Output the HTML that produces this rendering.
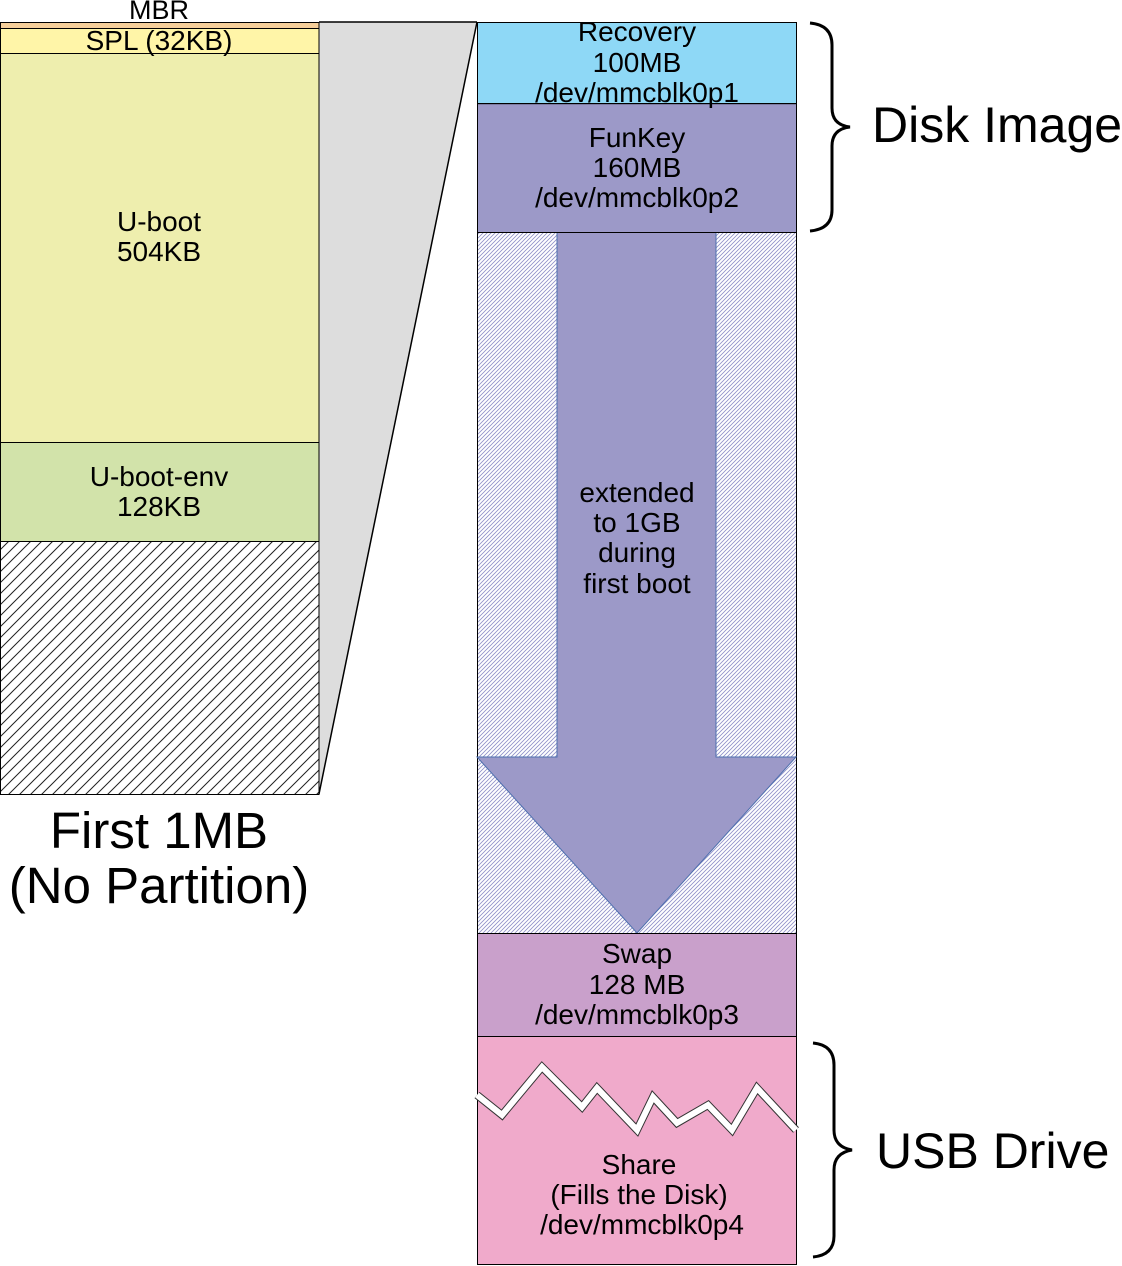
<!DOCTYPE html>
<html><head><meta charset="utf-8"><style>
html,body{margin:0;padding:0;background:#fff;}
svg{display:block;}
text{font-family:"Liberation Sans",sans-serif;fill:#000;}
</style></head><body>
<svg width="1122" height="1266" viewBox="0 0 1122 1266" xmlns="http://www.w3.org/2000/svg">
<defs>
<pattern id="hb" patternUnits="userSpaceOnUse" width="11" height="11">
<path d="M-1,12 L12,-1 M-12,12 L1,-1 M10,12 L23,-1" stroke="#222" stroke-width="1"/>
</pattern>
<pattern id="hu" patternUnits="userSpaceOnUse" width="4" height="4">
<path d="M-1,5 L5,-1 M-5,5 L1,-1 M3,5 L9,-1" stroke="#8f8fc8" stroke-width="0.8"/>
</pattern>
</defs>
<polygon points="319,22 477,22 319,794" fill="#dddddd" stroke="none"/>
<line x1="319" y1="22" x2="477" y2="22" stroke="#000" stroke-width="1.5"/>
<line x1="477" y1="22" x2="319" y2="794" stroke="#000" stroke-width="1.5"/>
<rect x="0.5" y="22.5" width="318.5" height="6" fill="#f6cf9a" stroke="#000"/>
<rect x="0.5" y="28.5" width="318.5" height="25" fill="#fff5a8" stroke="#000"/>
<rect x="0.5" y="53.5" width="318.5" height="389" fill="#eeeeae" stroke="#000"/>
<rect x="0.5" y="442.5" width="318.5" height="99" fill="#d2e3aa" stroke="#000"/>
<rect x="0.5" y="541.5" width="318.5" height="253" fill="url(#hb)" stroke="#000"/>
<text x="159" y="19" font-size="27" text-anchor="middle">MBR</text>
<text x="159" y="50" font-size="28" text-anchor="middle">SPL (32KB)</text>
<text x="159" y="231" font-size="28" text-anchor="middle">U-boot</text>
<text x="159" y="261" font-size="28" text-anchor="middle">504KB</text>
<text x="159" y="486" font-size="28" text-anchor="middle">U-boot-env</text>
<text x="159" y="516" font-size="28" text-anchor="middle">128KB</text>
<text x="159" y="848" font-size="51" text-anchor="middle">First 1MB</text>
<text x="159" y="903" font-size="51" text-anchor="middle">(No Partition)</text>
<rect x="477.5" y="232.5" width="319" height="701" fill="url(#hu)" stroke="#000"/>
<polygon points="557,232 716,232 716,757 796,757 637,933 477,757 557,757" fill="#9c99c8" stroke="#4e6fae" stroke-width="1"/>
<rect x="477.5" y="22.5" width="319" height="81" fill="#8ed8f6" stroke="#000"/>
<rect x="477.5" y="103.5" width="319" height="129" fill="#9c99c8" stroke="#000"/>
<rect x="477.5" y="933.5" width="319" height="103" fill="#c9a0cb" stroke="#000"/>
<rect x="477.5" y="1036.5" width="319" height="228" fill="#f0aacb" stroke="#000"/>
<polyline points="477,1095 502,1115 542,1067 582,1107 597,1088 637,1130 653,1097 677,1123 708,1105 732,1130 757,1088 796,1130" fill="none" stroke="#333" stroke-width="8"/>
<polyline points="477,1095 502,1115 542,1067 582,1107 597,1088 637,1130 653,1097 677,1123 708,1105 732,1130 757,1088 796,1130" fill="none" stroke="#fff" stroke-width="6"/>
<text x="637" y="41" font-size="28" text-anchor="middle">Recovery</text>
<text x="637" y="72" font-size="28" text-anchor="middle">100MB</text>
<text x="637" y="102" font-size="28" text-anchor="middle">/dev/mmcblk0p1</text>
<rect x="477" y="103" width="320" height="1.2" fill="#000"/>
<text x="637" y="147" font-size="28" text-anchor="middle">FunKey</text>
<text x="637" y="177" font-size="28" text-anchor="middle">160MB</text>
<text x="637" y="207" font-size="28" text-anchor="middle">/dev/mmcblk0p2</text>
<text x="637" y="502" font-size="28" text-anchor="middle">extended</text>
<text x="637" y="532" font-size="28" text-anchor="middle">to 1GB</text>
<text x="637" y="562" font-size="28" text-anchor="middle">during</text>
<text x="637" y="593" font-size="28" text-anchor="middle">first boot</text>
<text x="637" y="963" font-size="28" text-anchor="middle">Swap</text>
<text x="637" y="994" font-size="28" text-anchor="middle">128 MB</text>
<text x="637" y="1024" font-size="28" text-anchor="middle">/dev/mmcblk0p3</text>
<text x="639" y="1174" font-size="28" text-anchor="middle">Share</text>
<text x="639" y="1204" font-size="28" text-anchor="middle">(Fills the Disk)</text>
<text x="642" y="1234" font-size="28" text-anchor="middle">/dev/mmcblk0p4</text>
<path d="M810,23 Q832,25 832,45 L832,108 Q832,125 850,127 Q832,129 832,146 L832,210 Q832,229 810,231" fill="none" stroke="#000" stroke-width="3"/>
<path d="M813,1043 Q834,1045 834,1065 L834,1130 Q834,1147 852,1150 Q834,1153 834,1170 L834,1236 Q834,1255 813,1257" fill="none" stroke="#000" stroke-width="3"/>
<text x="872" y="142" font-size="50">Disk Image</text>
<text x="876" y="1168" font-size="50">USB Drive</text>
</svg>
</body></html>
